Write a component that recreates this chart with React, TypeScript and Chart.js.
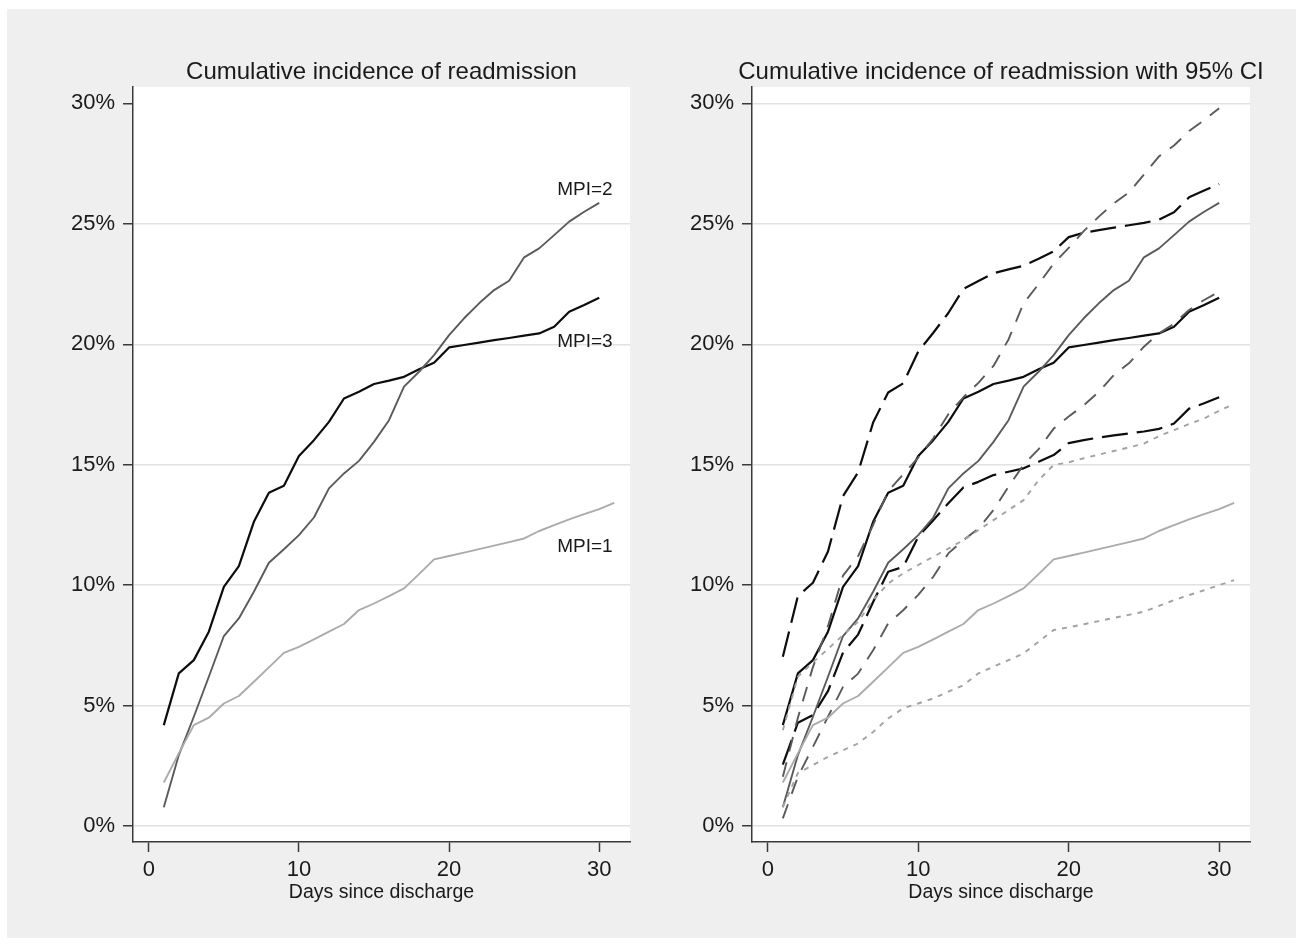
import React, { useEffect, useRef } from 'react';
import { Chart, registerables } from 'chart.js';

Chart.register(...registerables);

// ---------------- data ----------------
const days = [1, 2, 3, 4, 5, 6, 7, 8, 9, 10, 11, 12, 13, 14, 15, 16, 17, 18, 19, 20, 21, 22, 23, 24, 25, 26, 27, 28, 29, 30, 31];
const xTicks = [0, 10, 20, 30];
const yTicks = [0, 5, 10, 15, 20, 25, 30];

const mpi1 = [1.81, 3.02, 4.19, 4.5, 5.09, 5.4, 5.99, 6.59, 7.19, 7.44, 7.75, 8.07, 8.39, 8.97, 9.24, 9.55, 9.87, 10.46, 11.07, 11.21, 11.35, 11.5, 11.64, 11.79, 11.94, 12.25, 12.49, 12.73, 12.95, 13.16, 13.42];
const mpi2 = [0.78, 2.95, 4.54, 6.2, 7.89, 8.62, 9.73, 10.93, 11.49, 12.08, 12.81, 14.02, 14.64, 15.16, 15.95, 16.85, 18.24, 18.86, 19.55, 20.38, 21.08, 21.7, 22.25, 22.64, 23.61, 23.98, 24.53, 25.09, 25.5, 25.87];
const mpi3 = [4.19, 6.34, 6.89, 8.07, 9.93, 10.79, 12.63, 13.84, 14.13, 15.36, 16.02, 16.78, 17.75, 18.03, 18.35, 18.49, 18.65, 18.96, 19.23, 19.87, 19.97, 20.07, 20.17, 20.26, 20.36, 20.45, 20.73, 21.35, 21.63, 21.93];

const mpi1Lower = [0.8, 2.2, 2.53, 2.88, 3.15, 3.43, 3.91, 4.47, 4.89, 5.09, 5.3, 5.58, 5.85, 6.34, 6.62, 6.89, 7.17, 7.65, 8.14, 8.25, 8.38, 8.51, 8.64, 8.77, 8.9, 9.14, 9.38, 9.59, 9.79, 10.0, 10.21];
const mpi1Upper = [3.98, 6.2, 6.8, 7.35, 7.93, 8.48, 9.38, 10.07, 10.49, 10.84, 11.18, 11.52, 11.87, 12.29, 12.7, 13.12, 13.53, 14.36, 14.99, 15.1, 15.27, 15.42, 15.57, 15.72, 15.88, 16.19, 16.44, 16.69, 16.92, 17.24, 17.52];
const mpi2Lower = [0.32, 2.05, 3.29, 4.54, 5.78, 6.33, 7.3, 8.41, 8.96, 9.6, 10.35, 11.32, 11.87, 12.35, 13.12, 14.09, 15.0, 15.65, 16.5, 17.0, 17.47, 18.03, 18.72, 19.21, 19.9, 20.45, 20.86, 21.42, 21.84, 22.18];
const mpi2Upper = [2.05, 4.5, 6.6, 8.3, 10.4, 11.2, 12.5, 13.9, 14.6, 15.3, 16.1, 17.1, 17.8, 18.4, 19.1, 20.2, 21.7, 22.5, 23.35, 24.0, 24.7, 25.3, 25.85, 26.3, 27.05, 27.8, 28.25, 28.85, 29.3, 29.8];
const mpi3Lower = [2.55, 4.29, 4.61, 5.6, 7.2, 7.95, 9.3, 10.56, 10.76, 12.01, 12.7, 13.4, 14.06, 14.29, 14.57, 14.71, 14.85, 15.12, 15.4, 15.9, 16.02, 16.13, 16.22, 16.3, 16.38, 16.49, 16.71, 17.33, 17.55, 17.8];
const mpi3Upper = [7.03, 9.55, 10.1, 11.4, 13.7, 14.68, 16.75, 18.0, 18.38, 19.7, 20.48, 21.3, 22.3, 22.63, 22.95, 23.11, 23.26, 23.55, 23.86, 24.45, 24.63, 24.74, 24.84, 24.94, 25.04, 25.17, 25.48, 26.1, 26.38, 26.65];

const curveLabels = [
  { text: 'MPI=2', x: 27.2, y: 26.2 },
  { text: 'MPI=3', x: 27.2, y: 19.9 },
  { text: 'MPI=1', x: 27.2, y: 11.39 },
];

const leftTitle = 'Cumulative incidence of readmission';
const rightTitle = 'Cumulative incidence of readmission with 95% CI';
const xAxisTitle = 'Days since discharge';

// ---------------- styles ----------------
const FONT = "'Liberation Sans', Arial, Helvetica, sans-serif";
const AXIS = '#3a3a3a';
const GRID = '#e2e2e2';
const TXT = '#1a1a1a';
const C3 = '#0d0d0d';
const C2 = '#5a5a5a';
const C1 = '#ababab';

const pts = (vals: number[]) => vals.map((v, i) => ({ x: days[i], y: v }));

const line = (vals: number[], color: string, width: number, dash: number[] = []) => ({
  data: pts(vals),
  borderColor: color,
  borderWidth: width,
  borderDash: dash,
  pointRadius: 0,
  tension: 0,
  fill: false,
  borderJoinStyle: 'round' as const,
});

function textPlugin(title: string, labels: { text: string; x: number; y: number }[]) {
  return {
    id: 'customText',
    beforeDraw(chart: any) {
      const { ctx, chartArea: a } = chart;
      ctx.save();
      ctx.fillStyle = '#ffffff';
      ctx.fillRect(a.left, a.top, a.right - a.left, a.bottom - a.top);
      ctx.restore();
    },
    afterDraw(chart: any) {
      const { ctx, chartArea: a, scales } = chart;
      const cx = (a.left + a.right) / 2;
      ctx.save();
      ctx.fillStyle = TXT;
      ctx.textAlign = 'center';
      ctx.textBaseline = 'alphabetic';
      ctx.font = `24px ${FONT}`;
      ctx.fillText(title, cx, a.top - 8.5);
      ctx.font = `19.5px ${FONT}`;
      ctx.fillText(xAxisTitle, cx, a.bottom + 56);
      ctx.textAlign = 'left';
      ctx.font = `19px ${FONT}`;
      labels.forEach((l) => {
        ctx.fillText(l.text, scales.x.getPixelForValue(l.x), scales.y.getPixelForValue(l.y));
      });
      ctx.restore();
    },
  };
}

function makeOptions(yWidth: number, padRight: number, hideTopGrid: boolean) {
  return {
    responsive: false,
    animation: false as const,
    events: [] as any[],
    layout: { padding: { top: 47, right: padRight, bottom: 18, left: 0 } },
    plugins: {
      legend: { display: false },
      tooltip: { enabled: false },
      title: { display: false },
    },
    scales: {
      x: {
        type: 'linear' as const,
        min: -1.05,
        max: 32.05,
        afterBuildTicks: (s: any) => {
          s.ticks = xTicks.map((v) => ({ value: v }));
        },
        afterFit: (s: any) => {
          s.height = 60;
        },
        grid: { drawOnChartArea: false, drawTicks: true, tickLength: 10, tickColor: AXIS, tickWidth: 1.5 },
        border: { display: true, color: AXIS, width: 1.5 },
        ticks: { font: { family: FONT, size: 22 }, color: TXT, padding: 5, maxRotation: 0, autoSkip: false },
      },
      y: {
        type: 'linear' as const,
        min: -0.66,
        max: 30.68,
        afterBuildTicks: (s: any) => {
          s.ticks = yTicks.map((v) => ({ value: v }));
        },
        afterFit: (s: any) => {
          s.width = yWidth;
        },
        grid: {
          color: (c: any) => (hideTopGrid && c.tick && c.tick.value === 30 ? 'rgba(0,0,0,0)' : GRID),
          lineWidth: 1.5,
          drawTicks: true,
          tickLength: 10,
          tickColor: AXIS,
          tickWidth: 1.5,
        },
        border: { display: true, color: AXIS, width: 1.5 },
        ticks: {
          font: { family: FONT, size: 22 },
          color: TXT,
          padding: 8,
          autoSkip: false,
          callback: (v: any) => `${v}%`,
        },
      },
    },
  };
}

export default function App() {
  const leftRef = useRef<HTMLCanvasElement>(null);
  const rightRef = useRef<HTMLCanvasElement>(null);

  useEffect(() => {
    const left = new Chart(leftRef.current as HTMLCanvasElement, {
      type: 'line',
      data: {
        datasets: [line(mpi1, C1, 1.9), line(mpi2, C2, 1.9), line(mpi3, C3, 2.2)] as any,
      },
      options: makeOptions(123, 20, true) as any,
      plugins: [textPlugin(leftTitle, curveLabels)],
    });
    const right = new Chart(rightRef.current as HTMLCanvasElement, {
      type: 'line',
      data: {
        datasets: [
          line(mpi1Lower, '#a2a2a2', 1.9, [5, 6]),
          line(mpi1Upper, '#a2a2a2', 1.9, [5, 6]),
          line(mpi1, C1, 1.9),
          line(mpi2Lower, C2, 1.9, [15, 11]),
          line(mpi2Upper, C2, 1.9, [15, 11]),
          line(mpi2, C2, 1.9),
          line(mpi3Lower, C3, 2.2, [26, 9]),
          line(mpi3Upper, C3, 2.2, [26, 9]),
          line(mpi3, C3, 2.2),
        ] as any,
      },
      options: makeOptions(102, 40, false) as any,
      plugins: [textPlugin(rightTitle, [])],
    });
    return () => {
      left.destroy();
      right.destroy();
    };
  }, []);

  return (
    <div style={{ position: 'absolute', left: 0, top: 0, width: 1303, height: 947, background: '#ffffff' }}>
      <div style={{ position: 'absolute', left: 7, top: 9, width: 1289, height: 929, background: '#efefef' }} />
      <canvas
        ref={leftRef}
        width={640}
        height={880}
        style={{ position: 'absolute', left: 10, top: 40, width: 640, height: 880 }}
      />
      <canvas
        ref={rightRef}
        width={640}
        height={880}
        style={{ position: 'absolute', left: 650, top: 40, width: 640, height: 880 }}
      />
    </div>
  );
}
